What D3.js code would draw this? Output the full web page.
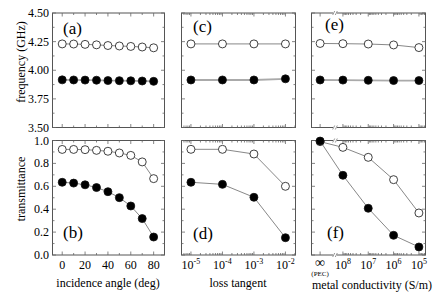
<!DOCTYPE html>
<html><head><meta charset="utf-8">
<script src="https://cdn.jsdelivr.net/npm/d3@7"></script>
<style>body{margin:0;background:#fff}</style>
</head><body><svg id="c" width="436" height="299" font-family="'Liberation Serif','DejaVu Serif','Times New Roman',serif"></svg>
<script>
// ---- data ----
const angles=[0,10,20,30,40,50,60,70,80];
const angleFreqOpen=[4.230,4.229,4.226,4.222,4.216,4.212,4.208,4.203,4.196];
const angleFreqFilled=[3.916,3.915,3.914,3.913,3.910,3.909,3.908,3.906,3.903];
const angleTransOpen=[0.922,0.922,0.920,0.914,0.906,0.891,0.870,0.813,0.667];
const angleTransFilled=[0.635,0.628,0.613,0.589,0.553,0.501,0.428,0.318,0.157];
const lossTangents=[1e-5,1e-4,1e-3,1e-2];
const lossFreqOpen=[4.230,4.230,4.230,4.230];
const lossFreqFilled=[3.915,3.915,3.915,3.925];
const lossTransOpen=[0.923,0.923,0.882,0.600];
const lossTransFilled=[0.635,0.617,0.504,0.151];
const conductivities=[Infinity,1e8,1e7,1e6,1e5];
const condFreqOpen=[4.234,4.232,4.229,4.221,4.198];
const condFreqFilled=[3.915,3.914,3.912,3.910,3.910];
const condTransOpen=[0.99,0.94,0.853,0.658,0.367];
const condTransFilled=[0.995,0.696,0.408,0.172,0.070];
const freqTicks=[3.50,3.75,4.00,4.25,4.50];
const freqMinor=[3.625,3.875,4.125,4.375];
const transTicks=[0,0.2,0.4,0.6,0.8,1.0];
const transMinor=[0.1,0.3,0.5,0.7,0.9];
const angleTicks=[0,20,40,60,80];
const angleMinor=[10,30,50,70];
const lossTickExp=[-5,-4,-3,-2];
const condTickExp=[8,7,6,5];

// ---- scales ----
const svg=d3.select("#c");
const yF=d3.scaleLinear([3.5,4.5],[127.5,13]);
const yT=d3.scaleLinear([0,1],[255,140.5]);
const xA=d3.scaleLinear([-8.5,89.5],[52.5,164.5]);
const xC=d3.scaleLog([10**-5.3,10**-1.68],[181.5,295.5]);
const xEl=d3.scaleLog([10**9.24,10**4.74],[311.5,425.5]);
const PECpos=10**8.9;
const xE=v=>xEl(v===Infinity?PECpos:v);

const frameCol="#555", tickCol="#666", lineCol="#888";

function frame(x0,x1,y0,y1){
  svg.append("rect").attr("x",x0).attr("y",y1).attr("width",x1-x0).attr("height",y0-y1)
    .attr("fill","none").attr("stroke",frameCol).attr("stroke-width",1);
}
function xticks(xs,len,y0,y1){
  xs.forEach(x=>{
    svg.append("line").attr("x1",x).attr("x2",x).attr("y1",y0).attr("y2",y0-len).attr("stroke",tickCol).attr("stroke-width",0.8);
    svg.append("line").attr("x1",x).attr("x2",x).attr("y1",y1).attr("y2",y1+len).attr("stroke",tickCol).attr("stroke-width",0.8);
  });
}
function yticks(ys,len,x0,x1){
  ys.forEach(y=>{
    svg.append("line").attr("x1",x0).attr("x2",x0+len).attr("y1",y).attr("y2",y).attr("stroke",tickCol).attr("stroke-width",0.8);
    svg.append("line").attr("x1",x1).attr("x2",x1-len).attr("y1",y).attr("y2",y).attr("stroke",tickCol).attr("stroke-width",0.8);
  });
}
function series(xs,ys,xf,yf,filled,thick){
  const pts=xs.map((x,i)=>[xf(x),yf(ys[i])]);
  svg.append("path").attr("d",d3.line()(pts)).attr("fill","none")
    .attr("stroke",thick?"#aaa":lineCol).attr("stroke-width",thick?1.8:1);
  svg.selectAll(null).data(pts).enter().append("circle")
    .attr("cx",d=>d[0]).attr("cy",d=>d[1]).attr("r",4)
    .attr("fill",filled?"#000":"#fff").attr("stroke","#111").attr("stroke-width",0.8);
}
function label(txt,x,y){
  svg.append("text").attr("x",x).attr("y",y).attr("font-size",17).text(txt);
}

const rows=[[yF,127.5,13,freqTicks.map(yF),freqMinor.map(yF)],[yT,255,140.5,transTicks.map(yT),transMinor.map(yT)]];

function logMinor(lo,hi){const r=[];for(let e=lo;e<=hi;e++)for(let m=2;m<=9;m++)r.push(m*10**e);return r;}

const panels=[
 {x:xA,x0:52.5,x1:164.5,major:angleTicks.map(xA),minor:angleMinor.map(xA)},
 {x:xC,x0:181.5,x1:295.5,major:lossTickExp.map(e=>xC(10**e)),minor:logMinor(-6,-2).filter(v=>v>=10**-5.3&&v<=10**-1.68).map(xC)},
 {x:xE,x0:311.5,x1:425.5,major:condTickExp.map(e=>xE(10**e)).concat([xE(Infinity)]),minor:logMinor(4,7).filter(v=>v>=10**4.74&&v<=10**8.3).map(xE)}
];
panels.forEach(p=>{
  rows.forEach(r=>{
    frame(p.x0,p.x1,r[1],r[2]);
    xticks(p.major,3.5,r[1],r[2]);
    xticks(p.minor,2,r[1],r[2]);
    yticks(r[3],3.5,p.x0,p.x1);
    yticks(r[4],2,p.x0,p.x1);
  });
});

// break marks on conductivity axes
const bx=335;
[127.5,13,255,140.5].forEach(y=>{
  svg.append("rect").attr("x",bx-2).attr("y",y-1.5).attr("width",4).attr("height",3).attr("fill","#fff");
  [-1.3,1.3].forEach(dx=>svg.append("line").attr("x1",bx+dx-1).attr("x2",bx+dx+1).attr("y1",y+2).attr("y2",y-2).attr("stroke",tickCol).attr("stroke-width",0.7));
});

// data series
series(angles,angleFreqOpen,xA,yF,false,false);
series(angles,angleFreqFilled,xA,yF,true,true);
series(angles,angleTransOpen,xA,yT,false,false);
series(angles,angleTransFilled,xA,yT,true,false);
series(lossTangents,lossFreqOpen,xC,yF,false,false);
series(lossTangents,lossFreqFilled,xC,yF,true,true);
series(lossTangents,lossTransOpen,xC,yT,false,false);
series(lossTangents,lossTransFilled,xC,yT,true,false);
series(conductivities,condFreqOpen,xE,yF,false,false);
series(conductivities,condFreqFilled,xE,yF,true,true);
series(conductivities,condTransOpen,xE,yT,false,false);
series(conductivities,condTransFilled,xE,yT,true,false);

// y tick labels
freqTicks.forEach(v=>svg.append("text").attr("x",49).attr("y",yF(v)+4).attr("text-anchor","end").attr("font-size",12).text(v.toFixed(2)));
transTicks.forEach(v=>svg.append("text").attr("x",49).attr("y",yT(v)+4).attr("text-anchor","end").attr("font-size",12).text(v.toFixed(1)));

// x tick labels
angleTicks.forEach(v=>svg.append("text").attr("x",xA(v)).attr("y",269).attr("text-anchor","middle").attr("font-size",12).text(v));
function powLabel(x,e){
  const t=svg.append("text").attr("x",x).attr("y",269).attr("text-anchor","middle").attr("font-size",12);
  t.append("tspan").text("10");
  t.append("tspan").attr("dy",-5).attr("font-size",8).text(e);
}
lossTickExp.forEach(e=>powLabel(xC(10**e),e));
condTickExp.forEach(e=>powLabel(xE(10**e),e));
svg.append("text").attr("x",xE(Infinity)).attr("y",267).attr("text-anchor","middle").attr("font-size",14).text("∞");
svg.append("text").attr("x",xE(Infinity)).attr("y",276).attr("text-anchor","middle").attr("font-size",7).text("(PEC)");

// axis titles
svg.append("text").attr("transform","translate(25,62) rotate(-90)").attr("text-anchor","middle").attr("font-size",12).text("frequency (GHz)");
svg.append("text").attr("transform","translate(25,189) rotate(-90)").attr("text-anchor","middle").attr("font-size",12).text("transmittance");
svg.append("text").attr("x",108).attr("y",287).attr("text-anchor","middle").attr("font-size",12).text("incidence angle (deg)");
svg.append("text").attr("x",238).attr("y",287).attr("text-anchor","middle").attr("font-size",12).text("loss tangent");
svg.append("text").attr("x",372).attr("y",289).attr("text-anchor","middle").attr("font-size",12).text("metal conductivity (S/m)");

// panel labels
label("(a)",63,34); label("(b)",63,238);
label("(c)",193,32); label("(d)",193,239);
label("(e)",325,30); label("(f)",327,238);
</script></body></html>
